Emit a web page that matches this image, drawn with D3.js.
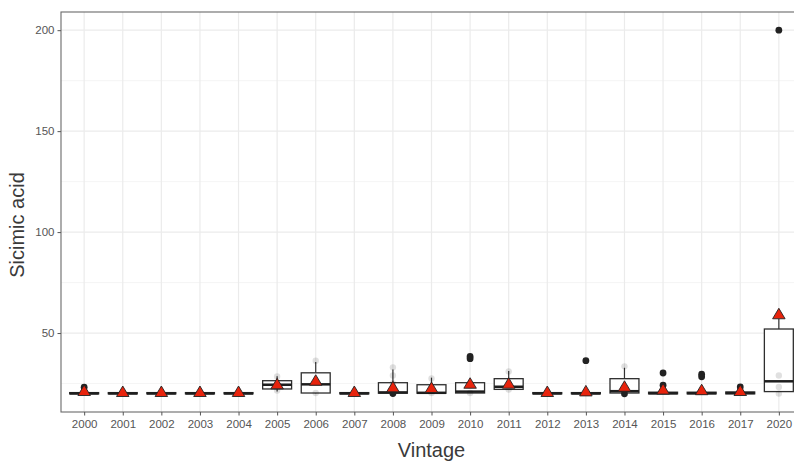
<!DOCTYPE html>
<html>
<head>
<meta charset="utf-8">
<script src="https://cdn.jsdelivr.net/npm/d3@7"></script>
<style>
  html, body { margin: 0; padding: 0; background: #fff; }
  svg { display: block; font-family: "Liberation Sans", Arial, sans-serif; }
</style>
</head>
<body>
<svg id="chart" width="794" height="461"></svg>
<script>
// ---- data ----
const years = ["2000","2001","2002","2003","2004","2005","2006","2007","2008","2009",
               "2010","2011","2012","2013","2014","2015","2016","2017","2020"];
const q1s   = [19.9,19.9,19.9,19.9,19.9,22.3,20.3,19.9,20.2,20.2,20.3,22.1,19.9,19.9,20.3,19.9,19.9,19.9,21.0];
const meds  = [20.1,20.1,20.1,20.1,20.1,24.4,24.6,20.1,20.6,20.4,21.0,23.4,20.1,20.1,21.2,20.2,20.2,20.3,26.1];
const q3s   = [20.5,20.5,20.5,20.5,20.5,26.4,30.3,20.5,25.4,24.4,25.4,27.4,20.5,20.5,27.4,20.7,20.7,20.8,52.0];
const whiskerLo = [19.9,19.9,19.9,19.9,19.9,21.0,20.2,19.9,20.2,20.2,20.3,21.8,19.9,19.9,20.3,19.9,19.9,19.9,21.0];
const whiskerHi = [20.5,20.5,20.5,20.5,20.5,28.6,35.7,20.5,32.0,27.9,25.9,31.2,20.5,20.5,32.8,20.7,20.7,20.8,57.0];
const means = [20.8,20.3,20.3,20.3,20.3,24.1,25.9,20.3,22.6,22.3,24.4,24.4,20.3,20.6,22.9,21.5,21.2,20.8,58.8];
const outliers = [[23.2],[],[],[],[],[],[],[],[20.0],[],[37.3,38.4],[],[],[36.3],[19.9],[30.2,24.2],[29.6,28.3],[23.3],[200]];
const rawPoints = [[],[],[],[],[],[28.5,21.5],[36.3,20.3],[],[33,29,25],[27.5,20.3],[20.3,24],[31,22],[],[],[33.5,21],[22],[],[],[29,23.3,20]];
const yTicks = [50,100,150,200];
const yMinor = [25,75,125,175];
const xTitle = "Vintage";
const yTitle = "Sicimic acid";

// ---- layout ----
const svg = d3.select("#chart");
const panel = {left: 61, right: 802, top: 12, bottom: 412};

const x = d3.scalePoint().domain(years).range([panel.left, panel.right]).padding(0.6);
const step = x.step();
const boxW = step * 0.75;

const allVals = [].concat(whiskerLo, whiskerHi, outliers.flat(), rawPoints.flat());
const lo = d3.min(allVals), hi = d3.max(allVals);
const pad = (hi - lo) * 0.05;
const y = d3.scaleLinear().domain([lo - pad, hi + pad]).range([panel.bottom, panel.top]);

// background + grid
const g = svg.append("g");
g.append("rect").attr("x", panel.left).attr("y", panel.top)
  .attr("width", panel.right - panel.left).attr("height", panel.bottom - panel.top)
  .attr("fill", "#fff");

g.selectAll("line.minor").data(yMinor).join("line")
  .attr("x1", panel.left).attr("x2", panel.right)
  .attr("y1", d => y(d)).attr("y2", d => y(d))
  .attr("stroke", "#f3f3f3").attr("stroke-width", 0.8);
g.selectAll("line.majy").data(yTicks).join("line")
  .attr("x1", panel.left).attr("x2", panel.right)
  .attr("y1", d => y(d)).attr("y2", d => y(d))
  .attr("stroke", "#ebebeb").attr("stroke-width", 1.2);
g.selectAll("line.majx").data(years).join("line")
  .attr("x1", d => x(d)).attr("x2", d => x(d))
  .attr("y1", panel.top).attr("y2", panel.bottom)
  .attr("stroke", "#ebebeb").attr("stroke-width", 1.2);

// boxplots
const boxes = svg.append("g").selectAll("g").data(years).join("g");
boxes.append("line")
  .attr("x1", d => x(d)).attr("x2", d => x(d))
  .attr("y1", (d,i) => y(q3s[i])).attr("y2", (d,i) => y(whiskerHi[i]))
  .attr("stroke", "#333").attr("stroke-width", 1.2);
boxes.append("line")
  .attr("x1", d => x(d)).attr("x2", d => x(d))
  .attr("y1", (d,i) => y(q1s[i])).attr("y2", (d,i) => y(whiskerLo[i]))
  .attr("stroke", "#333").attr("stroke-width", 1.2);
boxes.append("rect")
  .attr("x", d => x(d) - boxW/2).attr("width", boxW)
  .attr("y", (d,i) => y(q3s[i])).attr("height", (d,i) => Math.max(0.5, y(q1s[i]) - y(q3s[i])))
  .attr("fill", "#fff").attr("stroke", "#2e2e2e").attr("stroke-width", 1.3);
boxes.append("line")
  .attr("x1", d => x(d) - boxW/2).attr("x2", d => x(d) + boxW/2)
  .attr("y1", (d,i) => y(meds[i])).attr("y2", (d,i) => y(meds[i]))
  .attr("stroke", "#1e1e1e").attr("stroke-width", 2.5);

// raw points (light)
const rawFlat = [];
rawPoints.forEach((arr, i) => arr.forEach(v => rawFlat.push({yr: years[i], v})));
svg.append("g").selectAll("circle").data(rawFlat).join("circle")
  .attr("cx", d => x(d.yr)).attr("cy", d => y(d.v)).attr("r", 3.2)
  .attr("fill", "#000").attr("fill-opacity", 0.12);

// outliers
const outFlat = [];
outliers.forEach((arr, i) => arr.forEach(v => outFlat.push({yr: years[i], v})));
svg.append("g").selectAll("circle").data(outFlat).join("circle")
  .attr("cx", d => x(d.yr)).attr("cy", d => y(d.v)).attr("r", 3.4)
  .attr("fill", "#222");

// mean triangles (centroid at mean)
const th = 10.5, tw = 12.5;
svg.append("g").selectAll("path").data(years).join("path")
  .attr("d", (d,i) => {
    const cx = x(d), cy = y(means[i]);
    return `M${cx},${cy - th*2/3} L${cx + tw/2},${cy + th/3} L${cx - tw/2},${cy + th/3} Z`;
  })
  .attr("fill", "#e8230c").attr("stroke", "#222").attr("stroke-width", 0.9)
  .attr("stroke-linejoin", "round");

// panel border
svg.append("rect").attr("x", panel.left).attr("y", panel.top)
  .attr("width", panel.right - panel.left).attr("height", panel.bottom - panel.top)
  .attr("fill", "none").attr("stroke", "#6a6a6a").attr("stroke-width", 1.1);

// axes
const xAxis = d3.axisBottom(x).tickSize(3.5).tickPadding(4);
const xg = svg.append("g").attr("transform", `translate(0,${panel.bottom})`).call(xAxis);
xg.select(".domain").remove();
xg.selectAll("line").attr("stroke", "#555");
xg.selectAll("text").attr("fill", "#555").attr("font-size", "11.5px")
  .attr("font-family", "Liberation Sans, Arial, sans-serif");

const yAxis = d3.axisLeft(y).tickValues(yTicks).tickSize(3.5).tickPadding(3);
const yg = svg.append("g").attr("transform", `translate(${panel.left},0)`).call(yAxis);
yg.select(".domain").remove();
yg.selectAll("line").attr("stroke", "#555");
yg.selectAll("text").attr("fill", "#555").attr("font-size", "11.5px")
  .attr("font-family", "Liberation Sans, Arial, sans-serif");

// titles
svg.append("text").attr("x", (panel.left + panel.right) / 2).attr("y", 457)
  .attr("text-anchor", "middle").attr("font-size", "20px").attr("fill", "#3a3a3a")
  .text(xTitle);
svg.append("text").attr("transform", "translate(24,225) rotate(-90)")
  .attr("text-anchor", "middle").attr("font-size", "20px").attr("fill", "#3a3a3a")
  .text(yTitle);
</script>
</body>
</html>
